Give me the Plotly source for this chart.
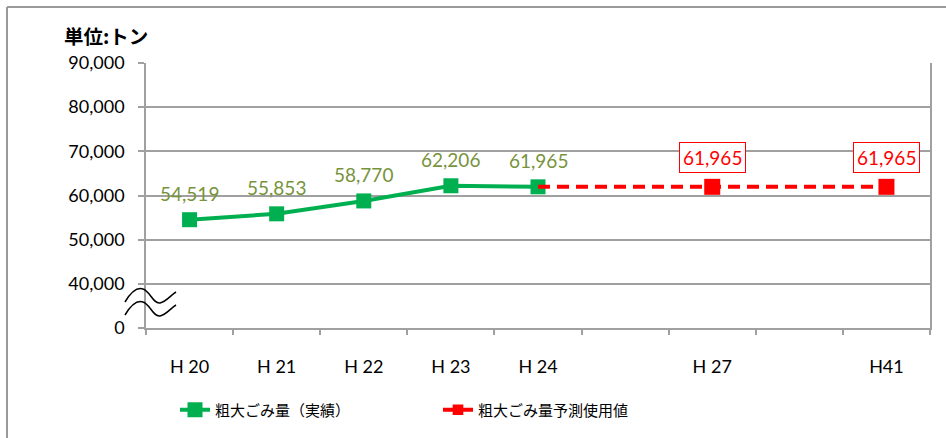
import plotly.graph_objects as go

# ---- data ----
categories = ["H 20", "H 21", "H 22", "H 23", "H 24", "", "H 27", "", "H41"]
actual_x = ["H 20", "H 21", "H 22", "H 23", "H 24"]
actual_vals = [54519, 55853, 58770, 62206, 61965]
forecast_x = ["H 24", "H 27", "H41"]
forecast_vals = [61965, 61965, 61965]
y_tickvals = [30000, 40000, 50000, 60000, 70000, 80000, 90000]
y_ticktext = ["0", "40,000", "50,000", "60,000", "70,000", "80,000", "90,000"]
name_actual = "粗大ごみ量（実績）"
name_forecast = "粗大ごみ量予測使用値"
unit_label = "単位:トン"

W, H = 946, 438
L, R, T, B = 146, 930, 63, 328

def px(xp):
    return (xp - L) / (R - L)

def py(yp):
    return (B - yp) / (B - T)

idx = {c: i for i, c in enumerate(categories) if c}
ax = [idx[c] for c in actual_x]
fx = [idx[c] for c in forecast_x]

GREEN = "#00B050"
LABEL_GREEN = "#77933C"
RED = "#FF0000"
GRID = "#A0A0A0"
NUMFONT = "Lato, Liberation Sans, sans-serif"
JPFONT = "Noto Sans CJK JP, sans-serif"

fig = go.Figure()
fig.add_trace(go.Scatter(
    x=ax, y=actual_vals, mode="lines+markers", name=name_actual,
    line=dict(color=GREEN, width=4),
    marker=dict(symbol="square", size=15, color=GREEN, opacity=1),
))
fig.add_trace(go.Scatter(
    x=fx, y=forecast_vals, mode="lines+markers", name=name_forecast,
    line=dict(color=RED, width=4, dash="12px,7px"),
    marker=dict(symbol="square", size=[0] + [16] * (len(fx) - 1), color=RED, opacity=1,
                line=dict(width=0)),
))

annotations = []
for x, v in zip(ax, actual_vals):
    annotations.append(dict(
        x=x, y=v, xref="x", yref="y", text=f"{v:,}", showarrow=False,
        yshift=26, font=dict(family=NUMFONT, size=19, color=LABEL_GREEN),
    ))
for x, v in list(zip(fx, forecast_vals))[1:]:
    annotations.append(dict(
        x=x, y=v, xref="x", yref="y", text=f"{v:,}", showarrow=False,
        yshift=29, font=dict(family=NUMFONT, size=19, color=RED),
        bordercolor=RED, borderwidth=1, borderpad=3, bgcolor="white",
    ))
annotations.append(dict(
    x=px(62), y=py(35), xref="paper", yref="paper", text=f"<b>{unit_label}</b>",
    showarrow=False, xanchor="left", yanchor="middle",
    font=dict(family=JPFONT, size=19.5, color="black"),
))

shapes = [
    # outer chart frame
    dict(type="line", xref="paper", yref="paper", x0=px(7), x1=px(960), y0=py(7), y1=py(7),
         line=dict(color="#9A9A9A", width=2), layer="above"),
    dict(type="line", xref="paper", yref="paper", x0=px(7), x1=px(7), y0=py(7), y1=py(460),
         line=dict(color="#9A9A9A", width=2), layer="above"),
]

def wave(y0):
    p = f"M {px(125)},{py(y0 + 13)} "
    p += f"C {px(131)},{py(y0 + 3)} {px(137)},{py(y0 - 2)} {px(143)},{py(y0)} "
    p += f"C {px(150)},{py(y0 + 2)} {px(153)},{py(y0 + 15)} {px(160)},{py(y0 + 14)} "
    p += f"C {px(166)},{py(y0 + 13)} {px(171)},{py(y0 + 6)} {px(176)},{py(y0 + 3)}"
    return p

for y0 in (289, 302):
    shapes.append(dict(type="path", xref="paper", yref="paper", path=wave(y0),
                       line=dict(color="black", width=1.5), layer="above"))

fig.update_layout(
    width=W, height=H,
    margin=dict(l=L, r=W - R, t=T, b=H - B, pad=0, autoexpand=False),
    paper_bgcolor="white", plot_bgcolor="white",
    showlegend=True,
    legend=dict(orientation="h", x=px(175), xanchor="left", y=py(410), yanchor="middle",
                font=dict(family=JPFONT, size=15, color="black"),
                entrywidth=218, entrywidthmode="pixels", bgcolor="rgba(0,0,0,0)"),
    annotations=annotations,
    shapes=shapes,
    font=dict(family=NUMFONT, color="black"),
)
fig.update_xaxes(
    range=[-0.5, len(categories) - 0.5],
    tickvals=list(range(len(categories))), ticktext=categories,
    ticks="outside", ticklen=22, tickcolor="rgba(0,0,0,0)",
    minor=dict(ticks="outside", tick0=-0.5, dtick=1, ticklen=5, tickcolor=GRID, tickwidth=1.5, showgrid=False),
    showgrid=False, zeroline=False,
    showline=True, linecolor=GRID, linewidth=1.5,
    tickfont=dict(family=NUMFONT, size=18, color="black"),
)
fig.update_yaxes(
    range=[30000, 90000],
    tickvals=y_tickvals, ticktext=y_ticktext,
    ticks="outside", ticklen=6, tickcolor=GRID, tickwidth=1.5,
    ticklabelstandoff=10,
    showgrid=True, gridcolor=GRID, gridwidth=1.5, zeroline=False,
    showline=True, linecolor=GRID, linewidth=1.5, mirror=True,
    tickfont=dict(family=NUMFONT, size=18, color="black"),
)

fig.write_html("out.html", config={"displayModeBar": False},
               post_script="document.body.style.margin='0';")
